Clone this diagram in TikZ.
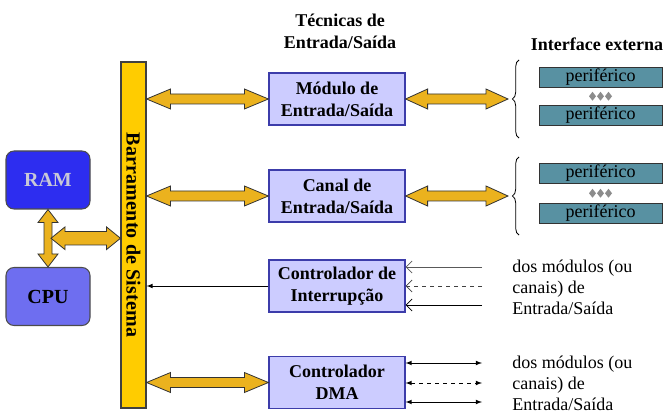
\documentclass[tikz,border=0pt]{standalone}
\usepackage{fontspec}
\setmainfont{Liberation Serif}
\newfontfamily\busfont[LetterSpace=1]{Liberation Serif}
\usetikzlibrary{calc,decorations.pathreplacing,arrows.meta}
\definecolor{busyellow}{RGB}{255,204,0}
\definecolor{fatgold}{RGB}{235,178,30}
\definecolor{ramblue}{RGB}{45,45,240}
\definecolor{ramtext}{RGB}{200,200,215}
\definecolor{cpublue}{RGB}{110,110,240}
\definecolor{boxlilac}{RGB}{204,204,255}
\definecolor{boxedge}{RGB}{60,60,170}
\definecolor{perteal}{RGB}{88,145,162}
\definecolor{dotgrey}{RGB}{140,140,140}

\tikzset{
  fatarrow/.style={fill=fatgold, draw=black!80, line width=0.6pt, line join=miter},
  bus/.style={draw=black!75, fill=busyellow, line width=0.8pt, minimum width=18.75pt, minimum height=259.5pt, inner sep=0pt},
  buslabel/.style={font=\busfont\bfseries\fontsize{15}{18}\selectfont, inner sep=0pt},
  cpubox/.style={draw=black!70, rounded corners=6pt, line width=0.8pt, minimum width=63pt, minimum height=43.5pt, font=\bfseries\fontsize{15}{18}\selectfont},
  iobox/.style={draw=boxedge, fill=boxlilac, line width=0.9pt, minimum width=102pt, minimum height=39pt, align=center, inner sep=0pt, font=\bfseries\fontsize{13.5}{16.5}\selectfont},
  perbox/.style={draw=black!80, fill=perteal, line width=0.7pt, minimum width=92.25pt, minimum height=15pt, inner sep=0pt, font=\fontsize{13.5}{16}\selectfont},
  header/.style={align=center, font=\bfseries\fontsize{13.5}{16.5}\selectfont},
  note/.style={align=left, inner sep=0pt, font=\fontsize{13.5}{15.75}\selectfont},
  thinline/.style={line width=0.6pt},
  reqtip/.style={-{Straight Barb[length=4.5pt,width=9pt]}}
}

% fat double arrows (start, end, head length, head half width, shaft half width)
\newcommand{\hfatarrow}[5]{%
  \draw[fatarrow] let \p1=(#1), \p2=(#2) in
    (\x1,\y1) -- (\x1+#3,\y1+#4) -- (\x1+#3,\y1+#5) -- (\x2-#3,\y1+#5) -- (\x2-#3,\y1+#4)
    -- (\x2,\y1) -- (\x2-#3,\y1-#4) -- (\x2-#3,\y1-#5) -- (\x1+#3,\y1-#5) -- (\x1+#3,\y1-#4) -- cycle;}
\newcommand{\vfatarrow}[5]{%
  \draw[fatarrow] let \p1=(#1), \p2=(#2) in
    (\x1,\y1) -- (\x1+#4,\y1-#3) -- (\x1+#5,\y1-#3) -- (\x1+#5,\y2+#3) -- (\x1+#4,\y2+#3)
    -- (\x1,\y2) -- (\x1-#4,\y2+#3) -- (\x1-#5,\y2+#3) -- (\x1-#5,\y1-#3) -- (\x1-#4,\y1-#3) -- cycle;}

\begin{document}
\begin{tikzpicture}[x=0.75pt, y=-0.75pt]
\useasboundingbox (0,0) rectangle (670,420);

% System bus
\node[bus] (bus) at (133.5,235) {};
\node[buslabel, rotate=-90] (buslbl) at (133.5,235) {Barramento de Sistema};

% Memory and processor
\node[cpubox, fill=ramblue, text=ramtext] (ram) at (48,180) {RAM};
\node[cpubox, fill=cpublue] (cpu) at (48,296.5) {CPU};

% I/O techniques
\node[header] (hdtec) at (340,31) {Técnicas de\\Entrada/Saída};
\node[iobox] (mod) at (337,99) {Módulo de\\Entrada/Saída};
\node[iobox] (canal) at (337,196) {Canal de\\Entrada/Saída};
\node[iobox] (intc) at (337,286) {Controlador de\\Interrupção};
\node[iobox] (dma) at (337,382.5) {Controlador\\DMA};

% External interface
\node[header] (hdext) at (597,44) {Interface externa};
\node[perbox] (p1) at (600.5,77) {periférico};
\node[perbox] (p2) at (600.5,115.5) {periférico};
\node[perbox] (p3) at (600.5,173.5) {periférico};
\node[perbox] (p4) at (600.5,213) {periférico};
\foreach \dx in {-8,0,8} {
  \fill[dotgrey] ($(p1)!0.5!(p2)+(\dx,-4.5)$) -- ++(3.5,4.5) -- ++(-3.5,4.5) -- ++(-3.5,-4.5) -- cycle;
  \fill[dotgrey] ($(p3)!0.5!(p4)+(\dx,-4.5)$) -- ++(3.5,4.5) -- ++(-3.5,4.5) -- ++(-3.5,-4.5) -- cycle;
}

% Braces
\coordinate (br1t) at (519,60);
\coordinate (br1b) at (519,138);
\coordinate (br2t) at (519,157);
\coordinate (br2b) at (519,235);
\draw[thinline, decorate, decoration={brace, amplitude=5pt}] (br1b) -- (br1t);
\draw[thinline, decorate, decoration={brace, amplitude=5pt}] (br2b) -- (br2t);
\coordinate (ext1) at (508,99);
\coordinate (ext2) at (508,196);

% Fat arrows
\vfatarrow{ram.south}{cpu.north}{9.75pt}{7.5pt}{3pt}
\coordinate (join) at ($(ram.south)!0.5!(cpu.north)+(3,0)$);
\hfatarrow{join}{join -| bus.west}{10.5pt}{8.5pt}{5pt}
\hfatarrow{bus.east |- mod.west}{mod.west}{18pt}{7.5pt}{3.75pt}
\hfatarrow{bus.east |- canal.west}{canal.west}{18pt}{7.5pt}{3.75pt}
\hfatarrow{bus.east |- dma.west}{dma.west}{18pt}{7.5pt}{3.75pt}
\hfatarrow{mod.east}{ext1}{16.5pt}{7.5pt}{3.75pt}
\hfatarrow{canal.east}{ext2}{16.5pt}{7.5pt}{3.75pt}

% Interrupt line to the bus
\draw[thinline, -latex] (intc.west) -- (intc.west -| bus.east);

% Interrupt requests
\coordinate (i1) at (482,267);
\coordinate (i2) at (482,286);
\coordinate (i3) at (482,305);
\draw[thinline, black!65, reqtip] (i1) -- (i1 -| intc.east);
\draw[thinline, black!75, dashed, reqtip] (i2) -- (i2 -| intc.east);
\draw[thinline, reqtip] (i3) -- (i3 -| intc.east);
\node[note, anchor=west] (intsrc) at (512,287) {dos módulos (ou\\canais) de\\Entrada/Saída};

% DMA links
\coordinate (d1) at (482,363);
\coordinate (d2) at (482,383);
\coordinate (d3) at (482,402);
\draw[thinline, latex-latex] (d1 -| dma.east) -- (d1);
\draw[thinline, dashed, latex-latex] (d2 -| dma.east) -- (d2);
\draw[thinline, latex-latex] (d3 -| dma.east) -- (d3);
\node[note, anchor=west] (dmasrc) at (512,383) {dos módulos (ou\\canais) de\\Entrada/Saída};
\end{tikzpicture}
\end{document}
